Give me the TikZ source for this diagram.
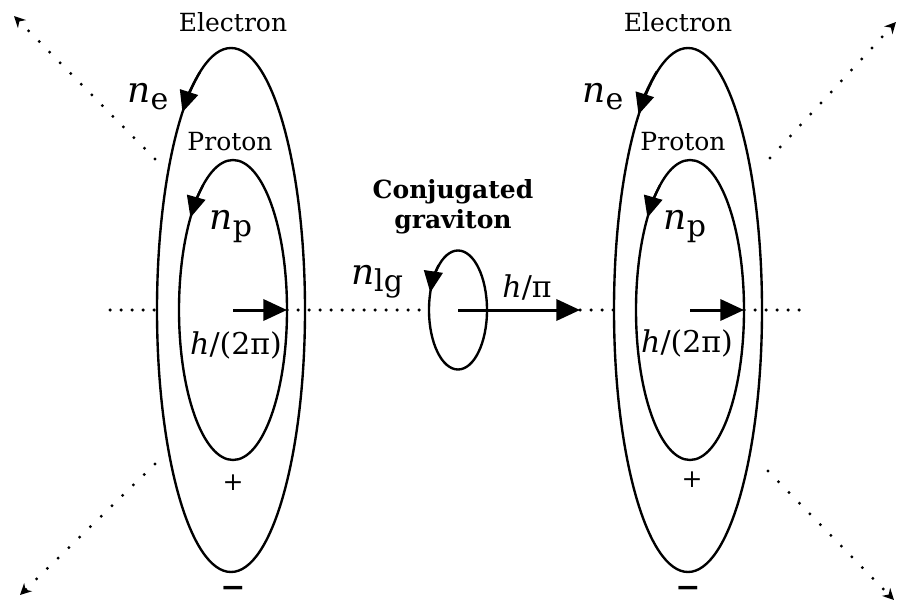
\documentclass[tikz,border=0pt]{standalone}
\usepackage{fontspec}
\setmainfont{DejaVu Serif}
\usetikzlibrary{arrows.meta,shapes.geometric}

\newcommand{\qnum}[2]{{\Large\textit{#1}}\raisebox{-0.45ex}{\large #2}}

\begin{document}
\begin{tikzpicture}[
  x=0.4pt, y=-0.4pt,
  font=\normalsize,
  orbit/.style={draw, ellipse, line width=0.95pt, inner sep=0pt, outer sep=0pt},
  electron/.style={orbit, minimum width=59.2pt, minimum height=209.6pt},
  proton/.style={orbit, minimum width=43.2pt, minimum height=120pt},
  graviton/.style={orbit, minimum width=23.2pt, minimum height=47.6pt},
  spin/.style={line width=0.95pt, -{Triangle[length=8.5pt, width=7.5pt]}},
  push/.style={line width=1.2pt, -{Triangle[length=9.5pt, width=8.5pt]}},
  axis/.style={line width=1.4pt, line cap=round, dash pattern=on 0pt off 4.4pt},
  ray/.style={line width=1.3pt, line cap=round, dash pattern=on 0pt off 6pt,
    -{Stealth[length=4.5pt, width=4.5pt]}},
  label/.style={inner sep=1pt},
  qn/.style={inner sep=1pt, font=\large}
]
\useasboundingbox (0,0) rectangle (900,606);

% left atom
\node[electron] (eL) at (231,310) {};
\node[proton] (pL) at (233,310) {};
% graviton
\node[graviton] (g) at (458,310) {};
% right atom
\node[electron] (eR) at (688,310) {};
\node[proton] (pR) at (690,310) {};

\coordinate (axisL) at (110,310);
\coordinate (axisR) at (805,310);
\coordinate (gtip) at (580,310);

% orbit directions
\draw[spin] (eL.center) ++(245:74 and 262) arc[start angle=245, end angle=229, x radius=74, y radius=262];
\draw[spin] (pL.center) ++(236:54 and 150) arc[start angle=236, end angle=218, x radius=54, y radius=150];
\draw[spin] (eR.center) ++(245:74 and 263) arc[start angle=245, end angle=228, x radius=74, y radius=263];
\draw[spin] (pR.center) ++(236:54 and 150) arc[start angle=236, end angle=218, x radius=54, y radius=150];
\draw[spin] (g.center) ++(228:29 and 60) arc[start angle=228, end angle=197, x radius=29, y radius=60];

% axis
\draw[axis] (axisL) -- (eL.west);
\draw[axis] (pL.east) -- (g.west);
\draw[axis] (gtip) -- (eR.west);
\draw[axis] (pR.east) -- (axisR);
\draw[push] (pL.center) -- (pL.east);
\draw[push] (g.center) -- (gtip);
\draw[push] (pR.center) -- (pR.east);

% rays to the corners
\coordinate (tlA) at (155,159); \coordinate (tlB) at (14,16);
\coordinate (blA) at (155,464); \coordinate (blB) at (20,595);
\coordinate (trA) at (770,158); \coordinate (trB) at (896,22);
\coordinate (brA) at (768,471); \coordinate (brB) at (894,600);
\draw[ray] (tlA) -- (tlB);
\draw[ray] (blA) -- (blB);
\draw[ray] (trA) -- (trB);
\draw[ray] (brA) -- (brB);

% labels
\node[label] (electronL) at (233,22) {Electron};
\node[label] (electronR) at (678,22) {Electron};
\node[label] (protonL) at (230,142) {Proton};
\node[label] (protonR) at (683,142) {Proton};
\node[qn] (neL) at (148,97) {\qnum{n}{e}};
\node[qn] (neR) at (603,97) {\qnum{n}{e}};
\node[qn] (npL) at (231,227) {\qnum{n}{p}};
\node[qn] (npR) at (685,227) {\qnum{n}{p}};
\node[qn] (spinL) at (236,345) {\textit{h}/(2π)};
\node[qn] (spinR) at (687,343) {\textit{h}/(2π)};
\node[qn] (ng) at (377,282) {\qnum{n}{lg}};
\node[qn] (spinG) at (527,287) {\textit{h}/π};
\node[label, font=\bfseries, align=center] (conj) at (453,207) {Conjugated\\graviton};
\node[label] (plusL) at (233,483) {+};
\node[label] (plusR) at (692,480) {+};
\node[label, font=\bfseries\large] (minusL) at (233,592) {−};
\node[label, font=\bfseries\large] (minusR) at (688,592) {−};
\end{tikzpicture}
\end{document}
